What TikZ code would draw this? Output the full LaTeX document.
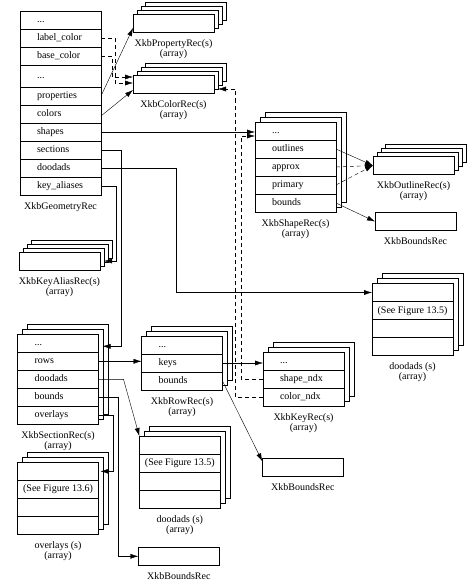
\documentclass[tikz,border=0pt]{standalone}
\usepackage{fontspec}
\setmainfont{Liberation Serif}
\usetikzlibrary{arrows.meta, positioning, calc, backgrounds}

\begin{document}
\begin{tikzpicture}[x=1pt, y=-1pt, line width=0.7pt,
  font=\fontsize{10}{10}\selectfont,
  rec/.style={draw, fill=white, outer sep=0pt, inner ysep=0pt, inner xsep=17pt,
    text width=47pt, align=left, minimum height=18pt, text height=7pt, text depth=2pt},
  recc/.style={draw, fill=white, outer sep=0pt, inner sep=0pt, minimum width=81pt,
    minimum height=18pt, text height=7pt, text depth=2pt},
  reclabel/.style={align=center, inner sep=0pt},
  link/.style={-{Latex[length=8pt, width=5pt]}},
  dlink/.style={link, dash pattern=on 4pt off 3pt},
  backbox/.style={draw, fill=white}
]
  \useasboundingbox (0,0) rectangle (469,583);

  % XkbGeometryRec
  \node[rec, anchor=north west] (g1) at (20,11) {...};
  \node[rec, below=0pt of g1] (g2) {label\_color};
  \node[rec, below=0pt of g2] (g3) {base\_color};
  \node[rec, below=0pt of g3, minimum height=22pt] (g4) {...};
  \node[rec, below=0pt of g4] (g5) {properties};
  \node[rec, below=0pt of g5] (g6) {colors};
  \node[rec, below=0pt of g6] (g7) {shapes};
  \node[rec, below=0pt of g7] (g8) {sections};
  \node[rec, below=0pt of g8] (g9) {doodads};
  \node[rec, below=0pt of g9] (g10) {key\_aliases};
  \node[reclabel, below=7pt of g10] (geolab) {XkbGeometryRec};

  % Single arrays
  \node[recc, anchor=north west] (pr) at (133,14.5) {};
  \node[reclabel, below=7pt of pr] (prlab) {XkbPropertyRec(s)\\(array)};
  \node[recc, anchor=north west] (cr) at (133,75) {};
  \node[reclabel, below=7pt of cr] (crlab) {XkbColorRec(s)\\(array)};
  \node[recc, anchor=north west] (ol) at (373,156.5) {};
  \node[reclabel, below=7pt of ol] (ollab) {XkbOutlineRec(s)\\(array)};
  \node[recc, anchor=north west] (ka) at (19,252) {};
  \node[reclabel, below=7pt of ka] (kalab) {XkbKeyAliasRec(s)\\(array)};

  % Bounds records
  \node[recc, anchor=north west] (b1) at (375,212.5) {};
  \node[reclabel, below=7pt of b1] (b1lab) {XkbBoundsRec};
  \node[recc, anchor=north west] (bm) at (262.3,458.3) {};
  \node[reclabel, below=7pt of bm] (bmlab) {XkbBoundsRec};
  \node[recc, anchor=north west] (bb) at (138.3,547.3) {};
  \node[reclabel, below=7pt of bb] (bblab) {XkbBoundsRec};

  % XkbShapeRec
  \node[rec, anchor=north west] (sh1) at (255,122) {...};
  \node[rec, below=0pt of sh1] (sh2) {outlines};
  \node[rec, below=0pt of sh2] (sh3) {approx};
  \node[rec, below=0pt of sh3] (sh4) {primary};
  \node[rec, below=0pt of sh4] (sh5) {bounds};
  \node[reclabel, below=7pt of sh5] (shlab) {XkbShapeRec(s)\\(array)};

  % doodads (right)
  \node[recc, anchor=north west] (dr1) at (372,283.5) {};
  \node[recc, below=0pt of dr1] (dr2) {(See Figure 13.5)};
  \node[recc, below=0pt of dr2] (dr3) {};
  \node[recc, below=0pt of dr3] (dr4) {};
  \node[reclabel, below=7pt of dr4] (drlab) {doodads (s)\\(array)};

  % XkbSectionRec
  \node[rec, anchor=north west] (s1) at (17.5,334.3) {...};
  \node[rec, below=0pt of s1] (s2) {rows};
  \node[rec, below=0pt of s2] (s3) {doodads};
  \node[rec, below=0pt of s3] (s4) {bounds};
  \node[rec, below=0pt of s4] (s5) {overlays};
  \node[reclabel, below=7pt of s5] (slab) {XkbSectionRec(s)\\(array)};

  % XkbRowRec
  \node[rec, anchor=north west] (r1) at (141.5,336) {...};
  \node[rec, below=0pt of r1] (r2) {keys};
  \node[rec, below=0pt of r2] (r3) {bounds};
  \node[reclabel, below=7pt of r3] (rlab) {XkbRowRec(s)\\(array)};

  % XkbKeyRec
  \node[rec, anchor=north west] (k1) at (263,352) {...};
  \node[rec, below=0pt of k1] (k2) {shape\_ndx};
  \node[rec, below=0pt of k2] (k3) {color\_ndx};
  \node[reclabel, below=7pt of k3] (klab) {XkbKeyRec(s)\\(array)};

  % doodads (middle)
  \node[recc, anchor=north west] (dm1) at (139.3,436) {};
  \node[recc, below=0pt of dm1] (dm2) {(See Figure 13.5)};
  \node[recc, below=0pt of dm2] (dm3) {};
  \node[recc, below=0pt of dm3] (dm4) {};
  \node[reclabel, below=7pt of dm4] (dmlab) {doodads (s)\\(array)};

  % overlays
  \node[recc, anchor=north west] (ov1) at (17.5,462.3) {};
  \node[recc, below=0pt of ov1] (ov2) {(See Figure 13.6)};
  \node[recc, below=0pt of ov2] (ov3) {};
  \node[recc, below=0pt of ov3] (ov4) {};
  \node[reclabel, below=7pt of ov4] (ovlab) {overlays (s)\\(array)};

  % Copies behind the arrays
  \begin{pgfonlayer}{background}
    \foreach \a/\b/\n/\d in {pr/pr/3/4, cr/cr/3/4, ol/ol/3/4, ka/ka/3/4,
        sh1/sh5/2/5, dr1/dr4/2/5, s1/s5/2/5, r1/r3/2/5, k1/k3/2/5,
        dm1/dm4/2/5, ov1/ov4/2/5}
      \foreach \k in {\n,...,1}
        \draw[backbox] ($(\a.north west)+(\k*\d,-\k*\d)$) rectangle ($(\b.south east)+(\k*\d,-\k*\d)$);
  \end{pgfonlayer}

  % Links from XkbGeometryRec
  \draw[dlink] (g2.east) -- ++(14,0) |- ([yshift=1pt]cr.west);
  \draw[dlink] (g3.east) -- ++(11,0) |- ([yshift=7pt]cr.west);
  \draw[link] (g5.east) -- ([yshift=-4.5pt]pr.west);
  \draw[link] ([yshift=-2pt]g6.east) -- ([yshift=-6pt]cr.west);
  \draw[link] (g7.east) -- (g7.east -| sh1.west);
  \draw[link] (g8.east) -- ++(20,0) |- ([xshift=4pt, yshift=-3pt]s1.east);
  \draw[link] (g9.east) -- ++(75,0) |- (dr1.west);
  \draw[link] (g10.east) -- ++(15,0) |- ([xshift=4pt]ka.east);

  % Links from XkbShapeRec
  \draw[link] (sh2.east) -- (ol.west);
  \draw[dlink] (sh3.east) -- (ol.west);
  \draw[dlink] (sh4.east) -- (ol.west);
  \draw[link] (sh5.east) -- (b1.west);

  % Links from XkbSectionRec
  \draw[link] (s2.east) -- (s2.east -| r1.west);
  \draw[link] (s3.east) -- ++(25,0) -- (dm1.north west);
  \draw[link] (s4.east) -- ++(20,0) |- (bb.west);
  \draw[link] (s5.east) -- ++(15,0) |- ([xshift=2pt]ov1.east);

  % Links from XkbRowRec
  \draw[link] (r2.east) -- (r2.east -| k1.west);
  \draw[link] (r3.east) -- ([yshift=6pt]bm.west);

  % Links from XkbKeyRec
  \draw[dlink] (k2.west) -- ++(-22,0) |- ([yshift=-5pt]sh1.west);
  \draw[dlink] (k3.west) -- ++(-27.5,0) |- ([xshift=4pt, yshift=-5pt]cr.east);
\end{tikzpicture}
\end{document}
